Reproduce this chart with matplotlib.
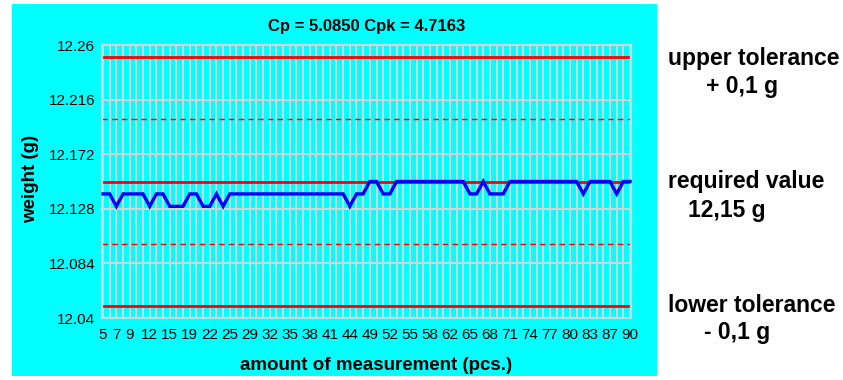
import matplotlib
matplotlib.use('Agg')
import matplotlib.pyplot as plt
from matplotlib.patches import Rectangle

plt.rcParams['font.family'] = ['Liberation Sans', 'DejaVu Sans']

# measured weights (g), one per measurement
weights = [12.14, 12.14, 12.13, 12.14, 12.14, 12.14, 12.14, 12.13, 12.14, 12.14,
           12.13, 12.13, 12.13, 12.14, 12.14, 12.13, 12.13, 12.14, 12.13, 12.14,
           12.14, 12.14, 12.14, 12.14, 12.14, 12.14, 12.14, 12.14, 12.14, 12.14,
           12.14, 12.14, 12.14, 12.14, 12.14, 12.14, 12.14, 12.13, 12.14, 12.14,
           12.15, 12.15, 12.14, 12.14, 12.15, 12.15, 12.15, 12.15, 12.15, 12.15,
           12.15, 12.15, 12.15, 12.15, 12.15, 12.14, 12.14, 12.15, 12.14, 12.14,
           12.14, 12.15, 12.15, 12.15, 12.15, 12.15, 12.15, 12.15, 12.15, 12.15,
           12.15, 12.15, 12.14, 12.15, 12.15, 12.15, 12.15, 12.14, 12.15, 12.15]

# x tick labels (measurement numbers) and the point they sit under
tick_idx = [0, 2, 4, 7, 10, 13, 16, 19, 22, 25, 28, 31, 34, 37, 40, 43, 46, 49,
            52, 55, 58, 61, 64, 67, 70, 73, 76, 79]
tick_labels = ['5', '7', '9', '12', '15', '19', '22', '25', '29', '32', '35', '38',
               '41', '44', '49', '52', '55', '58', '62', '65', '68', '71', '74',
               '77', '80', '83', '87', '90']

y_ticks = [12.04, 12.084, 12.128, 12.172, 12.216, 12.26]
y_labels = ['12.04', '12.084', '12.128', '12.172', '12.216', '12.26']

required = 12.15
upper_tol = 12.25
lower_tol = 12.05
warn_lines = [12.20, 12.10]

W, H = 843, 380
fig = plt.figure(figsize=(W / 100, H / 100), dpi=100)
fig.patch.set_facecolor('white')

# cyan panel behind the chart
fig.patches.append(Rectangle((12 / W, 1 - 376 / H), 645 / W, 372 / H,
                             transform=fig.transFigure, facecolor='#00ffff',
                             edgecolor='none', zorder=-5))

ax = fig.add_axes([102 / W, 1 - 318 / H, 529 / W, 273 / H])
ax.set_facecolor('#00ffff')

x = list(range(len(weights)))
grid_c = '#d4d4d4'
for i in x:
    ax.axvline(i, color=grid_c, lw=1.4, zorder=1)
for yv in y_ticks:
    ax.axhline(yv, color=grid_c, lw=1.4, zorder=1)

for yv in [upper_tol, required, lower_tol]:
    ax.axhline(yv, color='#ff0000', lw=2.0, zorder=2)
for yv in warn_lines:
    ax.axhline(yv, color='#ff0000', lw=1.0, linestyle=(0, (4, 3)), zorder=2)

ax.plot(x, weights, color='#0000ff', lw=2.4, zorder=3,
        solid_joinstyle='miter', clip_on=False)

ax.set_xlim(-0.15, 79.15)
ax.set_ylim(12.04, 12.26)
ax.set_xticks(tick_idx)
ax.set_xticklabels(tick_labels, fontsize=11)
ax.set_yticks(y_ticks)
ax.set_yticklabels(y_labels, fontsize=11)
ax.tick_params(axis='y', length=0, pad=5)
ax.tick_params(axis='x', length=0, pad=7.5)
for s in ax.spines.values():
    s.set_color(grid_c)
    s.set_linewidth(1.6)

ax.set_title('Cp = 5.0850 Cpk = 4.7163', fontsize=12, fontweight='bold', pad=10)
fig.text(376 / W, 1 - 370 / H, 'amount of measurement (pcs.)', fontsize=13.5,
         fontweight='bold', ha='center', va='baseline')
fig.text(31 / W, 1 - 179 / H, 'weight (g)', rotation=90, fontsize=13.5,
         fontweight='bold', ha='center', va='center')

side = dict(fontsize=16.5, fontweight='bold', va='center', ha='left')
fig.text(668 / W, 1 - 58 / H, 'upper tolerance', **side)
fig.text(706 / W, 1 - 86 / H, '+ 0,1 g', **side)
fig.text(668 / W, 1 - 182 / H, 'required value', **side)
fig.text(688 / W, 1 - 210 / H, '12,15 g', **side)
fig.text(668 / W, 1 - 306 / H, 'lower tolerance', **side)
fig.text(704 / W, 1 - 333 / H, '- 0,1 g', **side)

fig.savefig('out.png', dpi=100)
